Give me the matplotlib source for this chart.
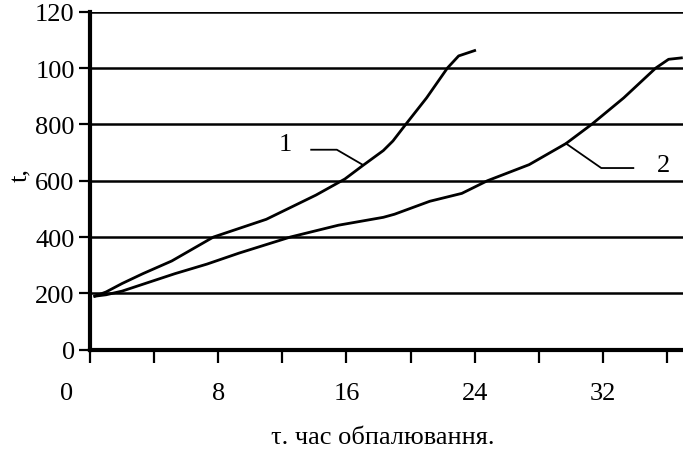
import matplotlib
matplotlib.use("Agg")
import matplotlib.pyplot as plt
from matplotlib.transforms import ScaledTranslation

# curve 1
tau1 = [0.3, 1.0, 2.0, 3.3, 5.1, 7.7, 11.0, 14.1, 15.9, 17.0, 18.3, 18.9, 19.7, 21.0, 22.3, 23.0, 24.0]
temp1 = [190, 205, 235, 270, 315, 400, 463, 549, 606, 653, 707, 741, 800, 894, 1000, 1043, 1062]

# curve 2
tau2 = [0.3, 1.0, 2.0, 5.3, 7.3, 9.3, 12.5, 15.5, 18.3, 19.0, 21.2, 23.2, 24.8, 27.4, 29.7, 31.3,
        33.3, 35.3, 36.1, 36.9]
temp2 = [190, 195, 208, 270, 304, 343, 400, 442, 470, 481, 527, 555, 600, 657, 732, 800,
         894, 1000, 1031, 1036]

x_ticks = [0, 4, 8, 12, 16, 20, 24, 28, 32, 36]
x_labels = ["0", "", "8", "", "16", "", "24", "", "32", ""]
y_ticks = [0, 200, 400, 600, 800, 1000, 1200]
y_labels = ["0", "200", "400", "600", "800", "100", "120"]

plt.rcParams["font.family"] = ["Liberation Serif", "DejaVu Serif"]

fig = plt.figure(figsize=(6.83, 4.52), dpi=100)
ax = fig.add_axes([0.1318, 0.2241, 0.8682, 0.7478])

for y in y_ticks[1:]:
    ax.axhline(y, color="black", lw=1.8, zorder=1)

ax.plot(tau1, temp1, color="black", lw=2, zorder=3)
ax.plot(tau2, temp2, color="black", lw=2, zorder=3)

# leader lines and curve numbers
ax.plot([13.8, 15.4, 17.0], [710, 710, 657], color="black", lw=1.3)
ax.text(12.2, 730, "1", fontsize=19, ha="center", va="center")
ax.plot([29.7, 31.9, 33.9], [732, 645, 645], color="black", lw=1.3)
ax.text(35.8, 657, "2", fontsize=19, ha="center", va="center")

ax.set_xlim(0, 37)
ax.set_ylim(0, 1200)
ax.set_xticks(x_ticks)
ax.set_xticklabels(x_labels)
ax.set_yticks(y_ticks)
ax.set_yticklabels(y_labels)

for side in ["top", "right"]:
    ax.spines[side].set_visible(False)
for side in ["left", "bottom"]:
    ax.spines[side].set_linewidth(3)

ax.tick_params(axis="x", length=9, width=1.6, pad=14, labelsize=19)
ax.tick_params(axis="y", length=8, width=1.6, pad=3, labelsize=19)

# the "0" under the x axis sits left of the origin in the original
lbl0 = ax.get_xticklabels()[0]
lbl0.set_transform(lbl0.get_transform() + ScaledTranslation(-0.23, 0, fig.dpi_scale_trans))

ax.set_ylabel("t,", fontsize=19)
ax.yaxis.set_label_coords(-0.098, 0.52)
ax.set_xlabel("τ. час обпалювання.", fontsize=19)
ax.xaxis.set_label_coords(0.494, -0.226)

fig.savefig("out.png", dpi=100)
